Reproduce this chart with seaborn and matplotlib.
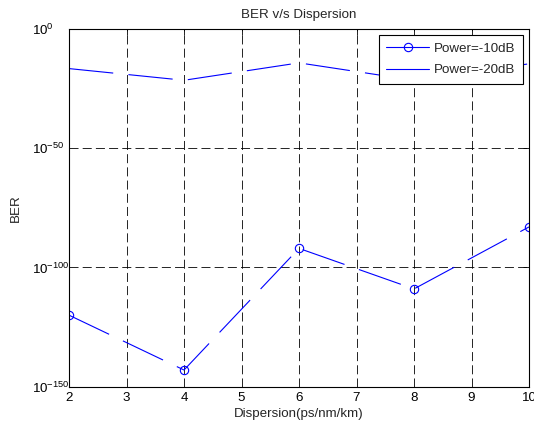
import numpy as np
import pandas as pd
import matplotlib
matplotlib.use('Agg')
import matplotlib.pyplot as plt
import seaborn as sns

# data
dispersion = [2, 4, 6, 8, 10]
ber_10db = [1e-120, 1e-143, 1e-92, 1e-109, 1e-83]
ber_20db = [10 ** -16.6, 10 ** -21.5, 10 ** -14.2, 10 ** -21.5, 10 ** -14.6]
series_names = ['Power=-10dB', 'Power=-20dB']
x_ticks = [2, 3, 4, 5, 6, 7, 8, 9, 10]
y_ticks = [1e0, 1e-50, 1e-100, 1e-150]

sns.set_style('white')
plt.rcParams['font.family'] = ['Liberation Sans', 'DejaVu Sans']
plt.rcParams['mathtext.fontset'] = 'custom'
plt.rcParams['mathtext.rm'] = 'Liberation Sans'
plt.rcParams['lines.scale_dashes'] = False

fs = 9.6

df = pd.DataFrame({
    'Dispersion': dispersion * 2,
    'BER': ber_10db + ber_20db,
    'Series': [series_names[0]] * len(dispersion) + [series_names[1]] * len(dispersion),
})

fig = plt.figure(figsize=(5.34, 4.28), dpi=100)
ax = fig.add_axes([69 / 534, 1 - 386.7 / 428, 460 / 534, 357.7 / 428])

blue = (0, 0, 1)
long_dash = (0, (32, 11))
sns.lineplot(data=df[df['Series'] == series_names[0]], x='Dispersion', y='BER',
             color=blue, lw=0.8, marker='o', markersize=6, markerfacecolor='none',
             markeredgecolor=blue, markeredgewidth=0.8, ax=ax, label=series_names[0])
sns.lineplot(data=df[df['Series'] == series_names[1]], x='Dispersion', y='BER',
             color=blue, lw=0.8, ax=ax, label=series_names[1])
for ln in ax.lines:
    ln.set_linestyle(long_dash)

ax.set_yscale('log')
ax.set_xlim(2, 10)
ax.set_ylim(1e-150, 1e0)
ax.set_xticks(x_ticks)
ax.set_yticks(y_ticks)
ax.minorticks_off()
ax.grid(True, color='black', linestyle=(0, (6.5, 3)), lw=0.6)
ax.tick_params(direction='in', length=4, width=0.6, top=True, right=True,
               labelsize=fs, colors='black')
ax.tick_params(axis='x', pad=3.5)
ax.tick_params(axis='y', pad=26.6)
for lab in ax.get_yticklabels():
    lab.set_horizontalalignment('left')
for sp in ax.spines.values():
    sp.set_color('black')
    sp.set_linewidth(0.8)

ax.set_title('BER v/s Dispersion', fontsize=fs, pad=8)
ax.set_xlabel('Dispersion(ps/nm/km)', fontsize=fs, labelpad=3)
ax.set_ylabel('BER', fontsize=fs)
ax.yaxis.set_label_coords(-0.102, 0.5)

leg = ax.legend(loc='upper right', fontsize=fs, frameon=True, fancybox=False,
                edgecolor='black', framealpha=1, handlelength=3.2, handletextpad=0.4,
                borderaxespad=0.45, borderpad=0.55, labelspacing=0.7)
leg.get_frame().set_linewidth(0.8)
for h in leg.get_lines():
    h.set_linestyle('-')

fig.savefig('out.png', dpi=100)
